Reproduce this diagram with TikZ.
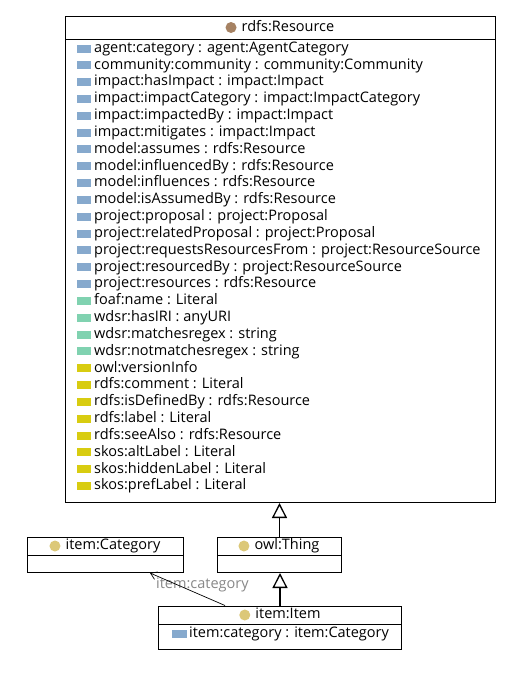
\documentclass[tikz,border=0pt]{standalone}
\usepackage{fontspec}
\setmainfont{Open Sans}
\usetikzlibrary{arrows.meta,calc}
\definecolor{objprop}{HTML}{86A9CD}
\definecolor{dataprop}{HTML}{80D2B0}
\definecolor{annprop}{HTML}{D8CC10}
\definecolor{classres}{HTML}{A68263}
\definecolor{classown}{HTML}{DCC878}
\definecolor{labelgray}{HTML}{888888}
\begin{document}
\begin{tikzpicture}[x=1pt,y=-1pt,
  every node/.style={font=\fontsize{14.5}{16}\selectfont, inner sep=0pt, text height=11pt, text depth=3.5pt},
  box/.style={draw=black, line width=1pt, fill=white, anchor=north west, inner sep=0pt},
  rowtext/.style={anchor=west, text=black},
  gen/.style={line width=1.6pt, -{Triangle[open, length=15pt, width=15pt, line width=1.3pt]}},
  assoc/.style={line width=0.7pt, -{Straight Barb[length=6pt, width=8pt, line width=0.7pt]}},
  sep/.style={line width=1pt}]
\useasboundingbox (0,0) rectangle (531,673);
\fill[white] (0,0) rectangle (531,673);

% rdfs:Resource class box
\node[box, minimum width=430pt, minimum height=486pt] (res) at (65,16) {};
\draw[sep] (65,39) -- (495,39);
\node (restitle) at (288,27.5) {rdfs:Resource};
\fill[classres] ($(restitle.west)+(-10.5,0)$) circle (5.5);

\foreach [count=\i] \c/\t in {
  objprop/agent:category : agent:AgentCategory,
  objprop/community:community : community:Community,
  objprop/impact:hasImpact : impact:Impact,
  objprop/impact:impactCategory : impact:ImpactCategory,
  objprop/impact:impactedBy : impact:Impact,
  objprop/impact:mitigates : impact:Impact,
  objprop/model:assumes : rdfs:Resource,
  objprop/model:influencedBy : rdfs:Resource,
  objprop/model:influences : rdfs:Resource,
  objprop/model:isAssumedBy : rdfs:Resource,
  objprop/project:proposal : project:Proposal,
  objprop/project:relatedProposal : project:Proposal,
  objprop/project:requestsResourcesFrom : project:ResourceSource,
  objprop/project:resourcedBy : project:ResourceSource,
  objprop/project:resources : rdfs:Resource,
  dataprop/foaf:name : Literal,
  dataprop/wdsr:hasIRI : anyURI,
  dataprop/wdsr:matchesregex : string,
  dataprop/wdsr:notmatchesregex : string,
  annprop/owl:versionInfo,
  annprop/rdfs:comment : Literal,
  annprop/rdfs:isDefinedBy : rdfs:Resource,
  annprop/rdfs:label : Literal,
  annprop/rdfs:seeAlso : rdfs:Resource,
  annprop/skos:altLabel : Literal,
  annprop/skos:hiddenLabel : Literal,
  annprop/skos:prefLabel : Literal} {
  \pgfmathsetmacro\yy{48.5+(\i-1)*16.83}
  \fill[\c] (77,\yy-4) rectangle (91,\yy+4);
  \node[rowtext] (r\i) at (94,\yy) {\t};
}

% item:Category class box
\node[box, minimum width=156pt, minimum height=35.5pt] (cat) at (27,536.5) {};
\draw[sep] (27,555.7) -- (183,555.7);
\node (cattitle) at (113,546) {item:Category};
\fill[classown] ($(cattitle.west)+(-10.5,0)$) circle (5.5);

% owl:Thing class box
\node[box, minimum width=124pt, minimum height=35.5pt] (thing) at (217,536.5) {};
\draw[sep] (217,555.7) -- (341,555.7);
\node (thingtitle) at (287,546) {owl:Thing};
\fill[classown] ($(thingtitle.west)+(-10.5,0)$) circle (5.5);

% item:Item class box
\node[box, minimum width=243pt, minimum height=43.8pt] (item) at (158,605.5) {};
\draw[sep] (158,624.5) -- (401,624.5);
\node (itemtitle) at (288,615) {item:Item};
\fill[classown] ($(itemtitle.west)+(-10.5,0)$) circle (5.5);
\fill[objprop] (172,630) rectangle (187,638);
\node[rowtext] (itemattr) at (189,634) {item:category : item:Category};

% subclass arrows
\draw[gen] (thing.north) -- (thing.north |- res.south);
\draw[gen] (item.north) -- (item.north |- thing.south);

% object property link
\node[anchor=west, text=labelgray] (lbl) at (156,585) {item:category};
\draw[assoc] ($(item.north west)+(67,0)$) -- ($(cat.south west)+(123,0)$);
\end{tikzpicture}
\end{document}
